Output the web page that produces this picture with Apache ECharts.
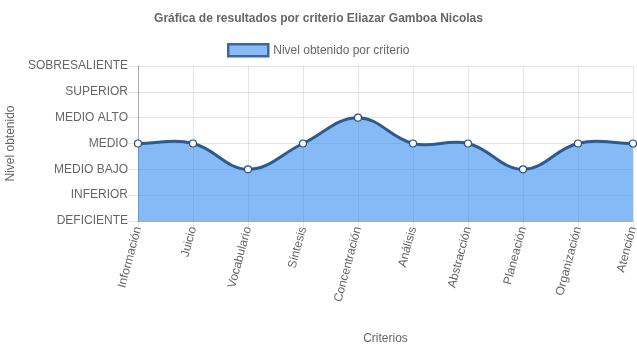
<!DOCTYPE html>
<html>
<head>
<meta charset="utf-8">
<script src="https://cdn.jsdelivr.net/npm/echarts@6/dist/echarts.min.js"></script>
<style>html,body{margin:0;padding:0;background:#fff}#c{width:637px;height:348px}</style>
</head>
<body>
<div id="c"></div>
<script>
const categories = ['Información','Juicio','Vocabulario','Síntesis','Concentración','Análisis','Abstracción','Planeación','Organización','Atención'];
const levelLabels = ['DEFICIENTE','INFERIOR','MEDIO BAJO','MEDIO','MEDIO ALTO','SUPERIOR','SOBRESALIENTE'];
const values = [3, 3, 2, 3, 4, 3, 3, 2, 3, 3];

const font = 'Liberation Sans, Arial, Helvetica, sans-serif';
const seriesName = 'Nivel obtenido por criterio';
const tension = 0.4;

function splinePath(pts) {
  // Chart.js-style cardinal spline control points
  const cps = pts.map((p, i) => {
    const prev = pts[i - 1] || p, next = pts[i + 1] || p;
    const d01 = Math.hypot(p[0] - prev[0], p[1] - prev[1]);
    const d12 = Math.hypot(next[0] - p[0], next[1] - p[1]);
    const tot = d01 + d12 || 1;
    const fa = tension * d01 / tot, fb = tension * d12 / tot;
    return {
      prev: [p[0] - fa * (next[0] - prev[0]), p[1] - fa * (next[1] - prev[1])],
      next: [p[0] + fb * (next[0] - prev[0]), p[1] + fb * (next[1] - prev[1])]
    };
  });
  let d = 'M' + pts[0][0] + ' ' + pts[0][1];
  for (let i = 1; i < pts.length; i++) {
    const c1 = cps[i - 1].next, c2 = cps[i].prev, p = pts[i];
    d += ' C' + c1[0] + ' ' + c1[1] + ' ' + c2[0] + ' ' + c2[1] + ' ' + p[0] + ' ' + p[1];
  }
  return d;
}

const chart = echarts.init(document.getElementById('c'));
chart.setOption({
  animation: false,
  textStyle: { fontFamily: font },
  title: {
    text: 'Gráfica de resultados por criterio Eliazar Gamboa Nicolas',
    left: 'center', top: 8,
    textStyle: { fontSize: 12, fontWeight: 'bold', color: '#666', fontFamily: font }
  },
  legend: {
    top: 38, left: 222,
    itemWidth: 40, itemHeight: 12, itemGap: 10,
    textStyle: { fontSize: 12, color: '#666', fontFamily: font },
    data: [{ name: seriesName, icon: 'rect',
      itemStyle: { color: '#8cbaf5', borderColor: '#3a68a3', borderWidth: 2.5 } }]
  },
  grid: { left: 138, right: 4, top: 66, bottom: 127, containLabel: false, outerBoundsMode: 'none' },
  xAxis: {
    type: 'category', boundaryGap: false, data: categories,
    name: 'Criterios', nameLocation: 'middle', nameGap: 112,
    nameTextStyle: { fontSize: 12, color: '#666', fontFamily: font },
    axisLine: { show: true, lineStyle: { color: 'rgba(0,0,0,0.25)' } },
    axisTick: { show: true, length: 8, lineStyle: { color: 'rgba(0,0,0,0.1)' } },
    axisLabel: { rotate: 75, fontSize: 12, color: '#666', margin: 6, fontFamily: font },
    splitLine: { show: true, lineStyle: { color: 'rgba(0,0,0,0.1)' } }
  },
  yAxis: {
    type: 'value', min: 0, max: 6, interval: 1,
    name: 'Nivel obtenido', nameLocation: 'middle', nameGap: 119, nameRotate: 90,
    nameTextStyle: { fontSize: 12, color: '#666', fontFamily: font },
    axisLine: { show: true, lineStyle: { color: 'rgba(0,0,0,0.25)' } },
    axisTick: { show: true, length: 10, lineStyle: { color: 'rgba(0,0,0,0.1)' } },
    axisLabel: { fontSize: 12, color: '#666', margin: 10, fontFamily: font,
      formatter: v => levelLabels[v] },
    splitLine: { show: true, lineStyle: { color: 'rgba(0,0,0,0.1)' } }
  },
  series: [{
    name: seriesName,
    type: 'custom',
    data: values.map((v, i) => [i, v]),
    encode: { x: 0, y: 1 },
    renderItem: function (params, api) {
      if (params.dataIndex !== 0) return null;
      const pts = values.map((v, i) => api.coord([i, v]));
      const base = api.coord([0, 0])[1];
      const curve = splinePath(pts);
      const last = pts[pts.length - 1], first = pts[0];
      const area = curve + ' L' + last[0] + ' ' + base + ' L' + first[0] + ' ' + base + ' Z';
      return {
        type: 'group',
        children: [
          { type: 'path', shape: { pathData: area },
            style: { fill: 'rgba(54,140,240,0.6)', stroke: null } },
          { type: 'path', shape: { pathData: curve },
            style: { fill: null, stroke: '#2d5b91', lineWidth: 3 } }
        ]
      };
    },
    z: 2
  }, {
    name: 'points',
    type: 'scatter',
    data: values,
    symbol: 'circle', symbolSize: 7,
    itemStyle: { color: '#fff', borderColor: '#2a4f7e', borderWidth: 1.2, opacity: 1 },
    z: 3
  }]
});
</script>
</body>
</html>
